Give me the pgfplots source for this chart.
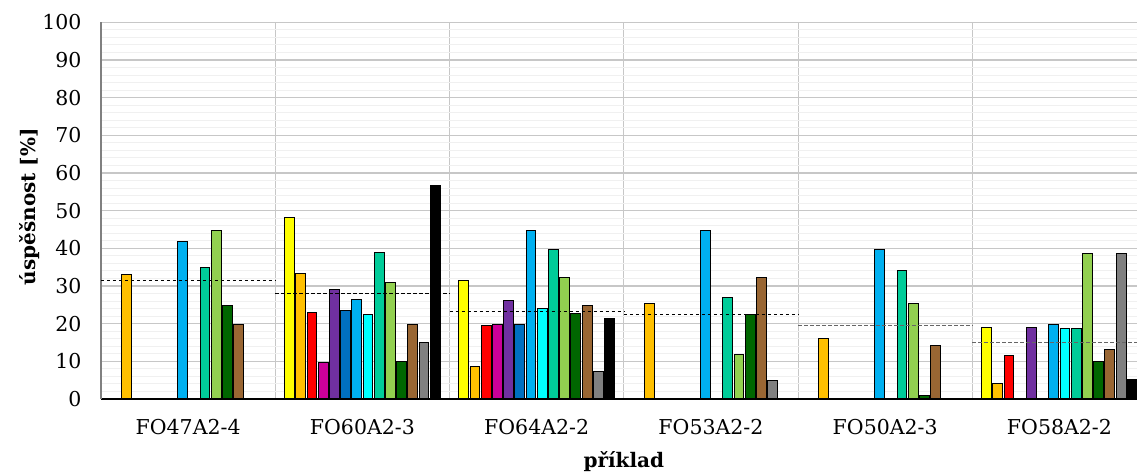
\documentclass[border=0pt]{standalone}
\usepackage{fontspec}
\setmainfont{DejaVu Serif}
\usepackage{pgfplots}
\pgfplotsset{compat=1.18}
\definecolor{cYellow}{HTML}{FFFF00}
\definecolor{cOrange}{HTML}{FFC000}
\definecolor{cRed}{HTML}{FF0000}
\definecolor{cMagenta}{HTML}{CC0099}
\definecolor{cPurple}{HTML}{7030A0}
\definecolor{cDarkBlue}{HTML}{0070C0}
\definecolor{cSkyBlue}{HTML}{00B0F0}
\definecolor{cCyan}{HTML}{00FFFF}
\definecolor{cTeal}{HTML}{00CC99}
\definecolor{cLightGreen}{HTML}{92D050}
\definecolor{cDarkGreen}{HTML}{006600}
\definecolor{cBrown}{HTML}{996633}
\definecolor{cGray}{HTML}{808080}
\definecolor{cBlack}{HTML}{000000}
\pgfplotsset{mybar/.style 2 args={ybar, bar width=0.0565, bar shift=#1, fill=#2, draw=black, line width=1pt}}
\begin{document}
\begin{tikzpicture}
\begin{axis}[
  name=ax,
  scale only axis,
  width=1036pt, height=376.7pt,
  xmin=-0.5, xmax=5.445, ymin=0, ymax=100,
  xtick={0,1,2,3,4,5},
  xticklabels={FO47A2-4,FO60A2-3,FO64A2-2,FO53A2-2,FO50A2-3,FO58A2-2},
  minor xtick={0.5,1.5,2.5,3.5,4.5},
  xminorgrids,
  minor x grid style={color=black!22, line width=1pt},
  ytick={0,10,...,100},
  minor y tick num=4,
  ymajorgrids, yminorgrids,
  major y grid style={color=black!22, line width=1.2pt},
  minor y grid style={color=black!6, line width=1pt},
  major tick length=0pt, minor tick length=0pt,
  axis x line*=bottom, axis y line*=left,
  axis line style={-},
  every outer x axis line/.append style={black, line width=1.5pt, -},
  every outer y axis line/.append style={black!50, line width=1.5pt, -},
  /pgf/number format/assume math mode=true,
  tick label style={font=\fontsize{20.5}{24}\selectfont},
  xticklabel style={yshift=-17pt},
  yticklabel style={xshift=-16pt},
  xlabel={\bfseries příklad},
  xlabel style={at={(axis cs:2.5,0)}, anchor=center, yshift=-63pt, font=\fontsize{20}{24}\selectfont},
]
\addplot[mybar={-0.4179}{cYellow}] coordinates {(1,48.1) (2,31.5) (5,19.0)};
\addplot[mybar={-0.3536}{cOrange}] coordinates {(0,33.0) (1,33.2) (2,8.7) (3,25.4) (4,16.0) (5,4.2)};
\addplot[mybar={-0.2893}{cRed}] coordinates {(1,22.9) (2,19.5) (5,11.5)};
\addplot[mybar={-0.2250}{cMagenta}] coordinates {(1,9.8) (2,19.9)};
\addplot[mybar={-0.1607}{cPurple}] coordinates {(1,29.0) (2,26.1) (5,19.0)};
\addplot[mybar={-0.0964}{cDarkBlue}] coordinates {(1,23.5) (2,19.9)};
\addplot[mybar={-0.0321}{cSkyBlue}] coordinates {(0,41.8) (1,26.5) (2,44.7) (3,44.7) (4,39.8) (5,19.8)};
\addplot[mybar={0.0321}{cCyan}] coordinates {(1,22.5) (2,24.0) (5,18.6)};
\addplot[mybar={0.0964}{cTeal}] coordinates {(0,34.9) (1,39.0) (2,39.8) (3,27.0) (4,34.2) (5,18.8)};
\addplot[mybar={0.1607}{cLightGreen}] coordinates {(0,44.7) (1,30.8) (2,32.3) (3,11.9) (4,25.4) (5,38.5)};
\addplot[mybar={0.2250}{cDarkGreen}] coordinates {(0,24.8) (1,9.9) (2,22.6) (3,22.5) (4,1.0) (5,9.9)};
\addplot[mybar={0.2893}{cBrown}] coordinates {(0,19.9) (1,19.9) (2,24.8) (3,32.3) (4,14.1) (5,13.2)};
\addplot[mybar={0.3536}{cGray}] coordinates {(1,14.9) (2,7.3) (3,4.9) (5,38.5)};
\addplot[mybar={0.4179}{cBlack}] coordinates {(1,56.8) (2,21.4) (5,5.3)};
% group averages (dashed)
\addplot[black, mark=none, line width=1.1pt, dash pattern=on 3.5pt off 2.5pt] coordinates {(-0.5,31.5) (0.5,31.5)};
\addplot[black, mark=none, line width=1.1pt, dash pattern=on 3.5pt off 2.5pt] coordinates {(0.5,28.0) (1.5,28.0)};
\addplot[black, mark=none, line width=1.1pt, dash pattern=on 3.5pt off 2.5pt] coordinates {(1.5,23.3) (2.5,23.3)};
\addplot[black, mark=none, line width=1.1pt, dash pattern=on 3.5pt off 2.5pt] coordinates {(2.5,22.5) (3.5,22.5)};
\addplot[black!60, mark=none, line width=1.1pt, dash pattern=on 3.5pt off 2.5pt] coordinates {(3.5,19.5) (4.5,19.5)};
\addplot[black!60, mark=none, line width=1.1pt, dash pattern=on 3.5pt off 2.5pt] coordinates {(4.5,15.1) (5.5,15.1)};
\end{axis}
\node[rotate=90, anchor=center, font=\fontsize{20}{24}\selectfont\bfseries] at ([xshift=-71pt, yshift=4pt]ax.west) {úspěšnost [\%]};
\pgfresetboundingbox
\path[use as bounding box] ([shift={(-101pt,-76pt)}]ax.south west) rectangle ([shift={(0pt,22.3pt)}]ax.north east);
\end{tikzpicture}
\end{document}
